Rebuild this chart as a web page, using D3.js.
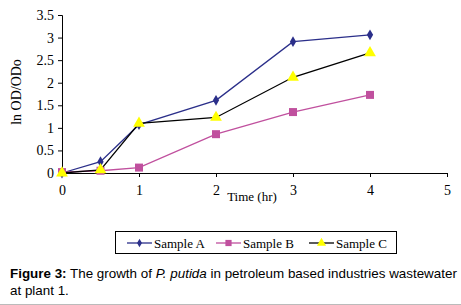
<!DOCTYPE html>
<meta charset="utf-8">
<style>
body { margin: 0; background: #fff; }
svg text { font-family: "Liberation Serif", "Times New Roman", serif; fill: #000; }
.cap { font-family: "Liberation Sans", Arial, sans-serif; font-size: 13.4px; }
</style>
<svg width="461" height="305"></svg>
<script src="https://d3js.org/d3.v7.min.js"></script>
<script>
const times = [0, 0.5, 1, 2, 3, 4];
const sampleA = [0, 0.25, 1.07, 1.61, 2.91, 3.06];
const sampleB = [0.02, 0.05, 0.12, 0.86, 1.35, 1.73];
const sampleC = [0, 0.07, 1.1, 1.23, 2.12, 2.66];
const xTicks = [0, 1, 2, 3, 4, 5];
const yTicks = [0, 0.5, 1, 1.5, 2, 2.5, 3, 3.5];

var series = [
  {name: "Sample A", values: sampleA, line: "#2b2f8a", fill: "#2b2f8a", sym: d3.symbolDiamond, size: 34},
  {name: "Sample B", values: sampleB, line: "#c0509e", fill: "#c0509e", sym: d3.symbolSquare, size: 64},
  {name: "Sample C", values: sampleC, line: "#000", fill: "#ffff00", sym: d3.symbolTriangle, size: 60}
];

var svg = d3.select("svg");
var x = d3.scaleLinear().domain([0, 5]).range([62, 447]);
var y = d3.scaleLinear().domain([0, 3.5]).range([173, 15]);

// axes
svg.append("g").attr("transform", "translate(0," + y(0) + ")")
  .call(d3.axisBottom(x).tickValues(xTicks).tickFormat(d3.format("d")).tickSize(4).tickPadding(8));
svg.append("g").attr("transform", "translate(" + x(0) + ",0)")
  .call(d3.axisLeft(y).tickValues(yTicks).tickFormat(d => d).tickSize(4).tickPadding(4));
svg.selectAll(".domain").attr("stroke", "#000");
svg.selectAll(".tick line").attr("stroke", "#000");
svg.selectAll(".tick text").style("font-family", "Liberation Serif").style("font-size", "14px");

svg.append("text").attr("x", 252).attr("y", 201).attr("text-anchor", "middle")
  .style("font-size", "13px").text("Time (hr)");
svg.append("text").attr("transform", "translate(21,92) rotate(-90)").attr("text-anchor", "middle")
  .style("font-size", "14px").text("ln OD/ODo");

var line = d3.line().x((d, i) => x(times[i])).y(d => y(d));

series.forEach(function(s) {
  svg.append("path").datum(s.values).attr("d", line)
    .attr("fill", "none").attr("stroke", s.line).attr("stroke-width", 1.3);
});
series.forEach(function(s) {
  svg.selectAll(null).data(s.values).enter().append("path")
    .attr("transform", (d, i) => "translate(" + x(times[i]) + "," + y(d) + ")")
    .attr("d", d3.symbol().type(s.sym).size(s.size))
    .attr("fill", s.fill);
});

// legend
var lg = svg.append("g");
lg.append("rect").attr("x", 115.5).attr("y", 231.5).attr("width", 281).attr("height", 22)
  .attr("fill", "#fff").attr("stroke", "#000");
var legX = [127, 216, 309];
series.forEach(function(s, i) {
  var g = lg.append("g").attr("transform", "translate(" + legX[i] + ",243)");
  g.append("line").attr("x1", 0).attr("x2", 25).attr("stroke", s.line).attr("stroke-width", 1.3);
  g.append("path").attr("transform", "translate(12.5,0)")
    .attr("d", d3.symbol().type(s.sym).size(s.size * 0.6)).attr("fill", s.fill);
  g.append("text").attr("x", 27).attr("y", 4.5).style("font-size", "13px").text(s.name);
});

// caption
var c1 = svg.append("text").attr("class", "cap").attr("x", 10).attr("y", 278);
c1.append("tspan").style("font-weight", "bold").text("Figure 3:");
c1.append("tspan").text(" The growth of ");
c1.append("tspan").style("font-style", "italic").text("P. putida");
c1.append("tspan").text(" in petroleum based industries wastewater");
svg.append("text").attr("class", "cap").attr("x", 10).attr("y", 295).text("at plant 1.");
svg.append("line").attr("x1", 0).attr("x2", 461).attr("y1", 304.5).attr("y2", 304.5)
  .attr("stroke", "#bbb");
</script>
